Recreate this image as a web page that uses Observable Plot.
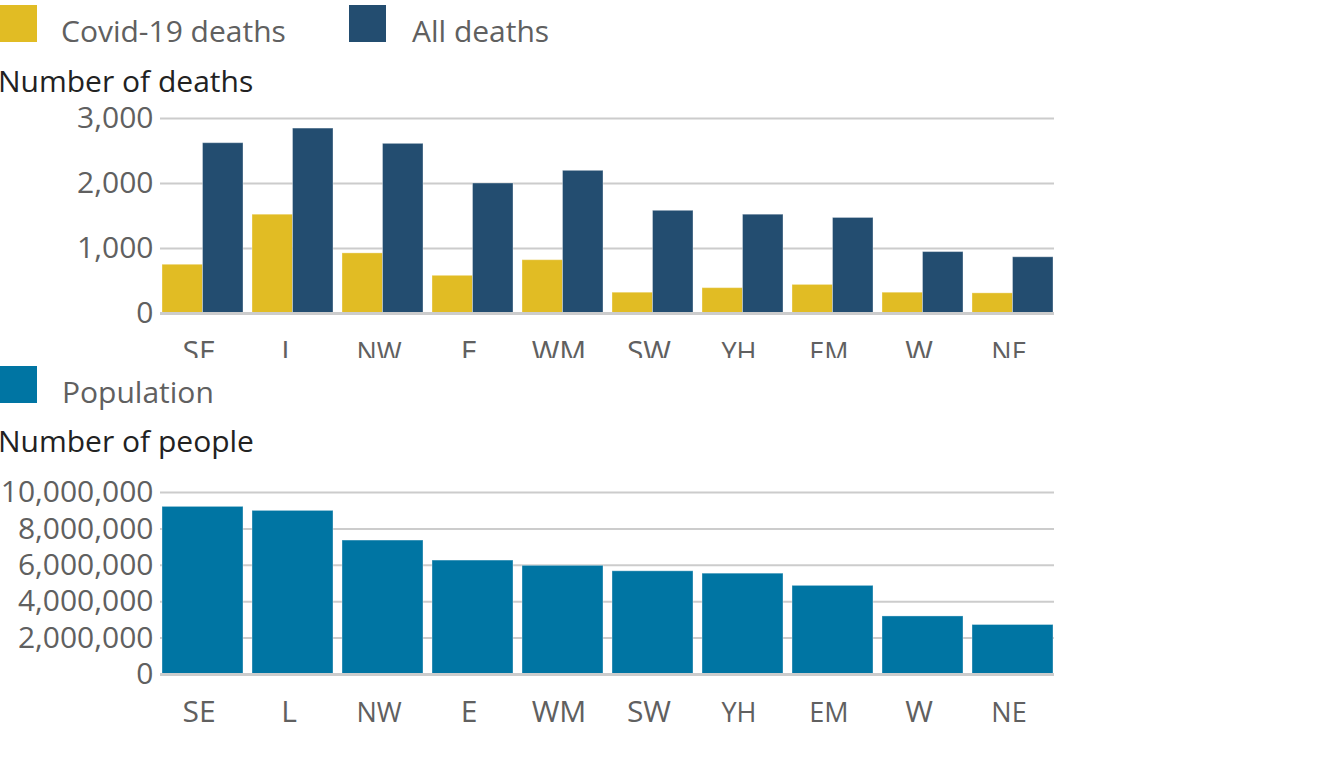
<!DOCTYPE html>
<html><head><meta charset="utf-8">
<script src="https://cdn.jsdelivr.net/npm/d3@7"></script>
<script src="https://cdn.jsdelivr.net/npm/@observablehq/plot@0.6"></script>
<style>
body{margin:0;background:#fff;font-family:"Open Sans",sans-serif;}
#page{position:relative;width:1340px;height:759px;overflow:hidden;background:#fff;}
.sw{position:absolute;width:37px;height:37px;}
.lt{position:absolute;font-size:30px;color:#606060;line-height:1;white-space:nowrap;}
.tt{position:absolute;font-size:30px;color:#222;line-height:1;white-space:nowrap;}
.chart{position:absolute;left:0;overflow:hidden;}
</style></head>
<body><div id="page">
<div class="sw" style="left:0;top:5px;background:#e1bc24"></div>
<div class="lt" style="left:61px;top:15.5px">Covid-19 deaths</div>
<div class="sw" style="left:349px;top:5px;background:#234d70"></div>
<div class="lt" style="left:412px;top:15.5px">All deaths</div>
<div class="tt" style="left:-2px;top:65.5px">Number of deaths</div>
<div class="chart" id="top" style="top:100px;height:258px;width:1340px"></div>
<div class="sw" style="left:0;top:366px;background:#0075a3"></div>
<div class="lt" style="left:62px;top:376.5px">Population</div>
<div class="tt" style="left:-2px;top:426px">Number of people</div>
<div class="chart" id="bottom" style="top:470px;height:289px;width:1340px"></div>
</div>
<script>
// ---- data ----
const regions = ["SE","L","NW","E","WM","SW","YH","EM","W","NE"];
const covidDeaths = [750,1520,925,580,820,320,390,440,320,310];
const allDeaths = [2620,2845,2610,2000,2195,1580,1520,1470,945,865];
const population = [9210000,8990000,7360000,6260000,5970000,5670000,5540000,4870000,3190000,2720000];
const deathTicks = [0,1000,2000,3000];
const peopleTicks = [0,2000000,4000000,6000000,8000000,10000000];

// styling helpers (not data)
const smallLabels = new Set(["NW","YH","EM","NE"]);
const fmt = d3.format(",");
const gridColor = "#cccccc";
const rows = regions.map((r,i)=>({region:r, covid:covidDeaths[i], all:allDeaths[i], population:population[i]}));

const common = {
  width:1054, marginLeft:160, marginRight:0,
  style:{fontFamily:"'Open Sans', sans-serif", fontSize:"30px", color:"#606060", background:"transparent"}
};
const xScale = {domain:regions, paddingInner:0.105, paddingOuter:0.01};

function shrinkLabels(svg){
  d3.select(svg).selectAll('g[aria-label="x-axis tick label"] text').each(function(){
    const t = d3.select(this).text();
    if (smallLabels.has(t)) {
      const tr = this.getAttribute("transform") || "";
      d3.select(this).attr("font-size", 27).attr("transform", (tr + " translate(0,2.1)").trim());
    }
  });
  return svg;
}

function deathsChart(bw){
  const half = bw ? bw/2 : 0;
  return Plot.plot({
    ...common, height:280, marginTop:18, marginBottom:67,
    x:xScale,
    y:{domain:[0,3000]},
    marks:[
      Plot.ruleY(deathTicks.filter(d=>d>0), {stroke:gridColor, strokeWidth:2}),
      Plot.barY(rows, {x:"region", y:"covid", fill:"#e1bc24", insetRight:half, stroke:"white", strokeOpacity:0.35, strokeWidth:1}),
      Plot.barY(rows, {x:"region", y:"all", fill:"#234d70", insetLeft:half, stroke:"white", strokeOpacity:0.35, strokeWidth:1}),
      Plot.ruleY([0], {stroke:gridColor, strokeWidth:3}),
      Plot.axisX({tickSize:0, tickPadding:27, label:null, dx:-4, fontSize:30}),
      Plot.axisY(deathTicks, {tickSize:0, tickPadding:7, tickFormat:fmt, label:null, fontSize:30})
    ]
  });
}
const probe = deathsChart(0);
const bw = probe.scale("x").bandwidth;
document.getElementById("top").appendChild(shrinkLabels(deathsChart(bw)));

const pop = Plot.plot({
  ...common, height:260, marginTop:22, marginBottom:56,
  x:xScale,
  y:{domain:[0,10000000]},
  marks:[
    Plot.ruleY(peopleTicks.filter(d=>d>0), {stroke:gridColor, strokeWidth:2}),
    Plot.barY(rows, {x:"region", y:"population", fill:"#0075a3", stroke:"white", strokeOpacity:0.35, strokeWidth:1}),
    Plot.ruleY([0], {stroke:gridColor, strokeWidth:3}),
    Plot.axisX({tickSize:0, tickPadding:26, label:null, dx:-4, fontSize:30}),
    Plot.axisY(peopleTicks, {tickSize:0, tickPadding:7, tickFormat:fmt, label:null, fontSize:30})
  ]
});
document.getElementById("bottom").appendChild(shrinkLabels(pop));
</script>
</body></html>
